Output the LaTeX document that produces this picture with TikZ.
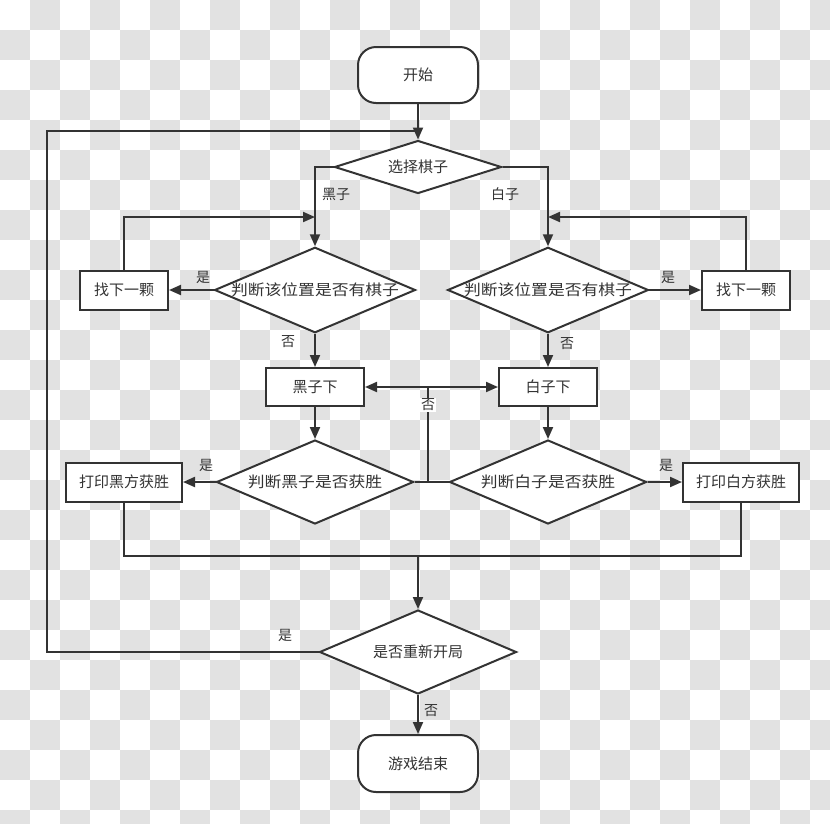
\documentclass[tikz,border=0pt]{standalone}
\usepackage{fontspec}
\usetikzlibrary{shapes.geometric,arrows.meta}
\newfontfamily\cjk{Noto Sans CJK SC}
\newfontfamily\cjkwide[FakeStretch=1.12]{Noto Sans CJK SC}
\definecolor{ink}{HTML}{333333}
\definecolor{checker}{HTML}{E2E2E2}

\begin{document}
\begin{tikzpicture}[
      x=1pt, y=-1pt,
      every node/.style={inner sep=0pt, text=ink, font=\cjk\fontsize{15}{15}\selectfont},
      terminal/.style={draw=ink, line width=2pt, fill=white, rounded corners=18pt,
        minimum width=120pt, minimum height=56pt},
      box/.style={draw=ink, line width=2pt, fill=white, minimum height=39pt},
      decision/.style={draw=ink, line width=2pt, fill=white, diamond, aspect=2.35,
        minimum width=197pt, minimum height=84pt},
      wide/.style={font=\cjkwide\fontsize{15}{15}\selectfont},
      flow/.style={draw=ink, line width=2pt, -{Triangle[length=12pt,width=10pt]}},
      plain/.style={draw=ink, line width=2pt},
      answer/.style={font=\cjk\fontsize{14}{14}\selectfont}
    ]
  \useasboundingbox (0,0) rectangle (830,823);
  % background
  \begin{scope}
    \clip (0,0) rectangle (830,823);
    \fill[white] (0,0) rectangle (830,823);
    \foreach \i in {0,...,27} {
      \foreach \j in {0,...,27} {
        \pgfmathtruncatemacro\odd{mod(\i+\j,2)}
        \ifnum\odd=1 \fill[checker] (\i*30,\j*30) rectangle ++(30,30); \fi
      }
    }
  \end{scope}

  % nodes
  \node[terminal] (start) at (418,75) {开始};
  \node[decision, minimum width=167pt, minimum height=53pt] (choose) at (418,167) {选择棋子};
  \node[decision, wide] (blackcheck) at (315,290) {判断该位置是否有棋子};
  \node[decision, wide] (whitecheck) at (548,290) {判断该位置是否有棋子};
  \node[box, minimum width=88pt] (blacknext) at (124,290) {找下一颗};
  \node[box, minimum width=88pt] (whitenext) at (746,290) {找下一颗};
  \node[box, minimum width=98pt, minimum height=38pt] (blackmove) at (315,387) {黑子下};
  \node[box, minimum width=98pt, minimum height=38pt] (whitemove) at (548,387) {白子下};
  \node[decision, wide] (blackwin) at (315,482) {判断黑子是否获胜};
  \node[decision, wide] (whitewin) at (548,482) {判断白子是否获胜};
  \node[box, minimum width=116pt] (blackprint) at (124,482) {打印黑方获胜};
  \node[box, minimum width=116pt] (whiteprint) at (741,482) {打印白方获胜};
  \node[decision] (restart) at (418,652) {是否重新开局};
  \node[terminal, minimum height=57pt] (finish) at (418,763.5) {游戏结束};

  \coordinate (loopin) at (418,131);
  \coordinate (loopleft) at (47,131);
  \coordinate (blackback) at (315,217);
  \coordinate (whiteback) at (548,217);
  \coordinate (split) at (428,482);
  \coordinate (merge) at (418,556);

  % connectors
  \draw[plain] (restart.west) -| (loopleft) -- (loopin);
  \draw[flow] (start) -- (choose);
  \draw[flow] (choose.west) -| (blackcheck.north);
  \draw[flow] (choose.east) -| (whitecheck.north);
  \draw[flow] (blacknext.north) |- (blackback);
  \draw[flow] (whitenext.north) |- (whiteback);
  \draw[flow] (blackcheck.west) -- (blacknext.east);
  \draw[flow] (whitecheck.east) -- (whitenext.west);
  \draw[flow] (blackcheck.south) -- (blackmove.north);
  \draw[flow] (whitecheck.south) -- (whitemove.north);
  \draw[flow] (blackmove.south) -- (blackwin.north);
  \draw[flow] (whitemove.south) -- (whitewin.north);
  \draw[flow] (blackwin.west) -- (blackprint.east);
  \draw[flow] (whitewin.east) -- (whiteprint.west);
  \draw[plain] (blackwin.east) -- (whitewin.west);
  \draw[flow] (split) |- (blackmove.east);
  \draw[flow] (split) |- (whitemove.west);
  \draw[plain] (blackprint.south) |- (merge);
  \draw[plain] (whiteprint.south) |- (merge);
  \draw[flow] (merge) -- (restart.north);
  \draw[flow] (restart.south) -- (finish.north);

  % answers
  \node[answer] (lblack) at (336,194) {黑子};
  \node[answer] (lwhite) at (505,194) {白子};
  \node[answer] (yes1) at (203,277) {是};
  \node[answer] (yes2) at (668,277) {是};
  \node[answer] (no1) at (288,342) {否};
  \node[answer] (no2) at (567,344) {否};
  \node[answer, fill=white, inner sep=1pt] (no3) at (428,405) {否};
  \node[answer] (yes3) at (206,465) {是};
  \node[answer] (yes4) at (666,465) {是};
  \node[answer] (yes5) at (285,635) {是};
  \node[answer] (no4) at (431,711) {否};
\end{tikzpicture}
\end{document}
